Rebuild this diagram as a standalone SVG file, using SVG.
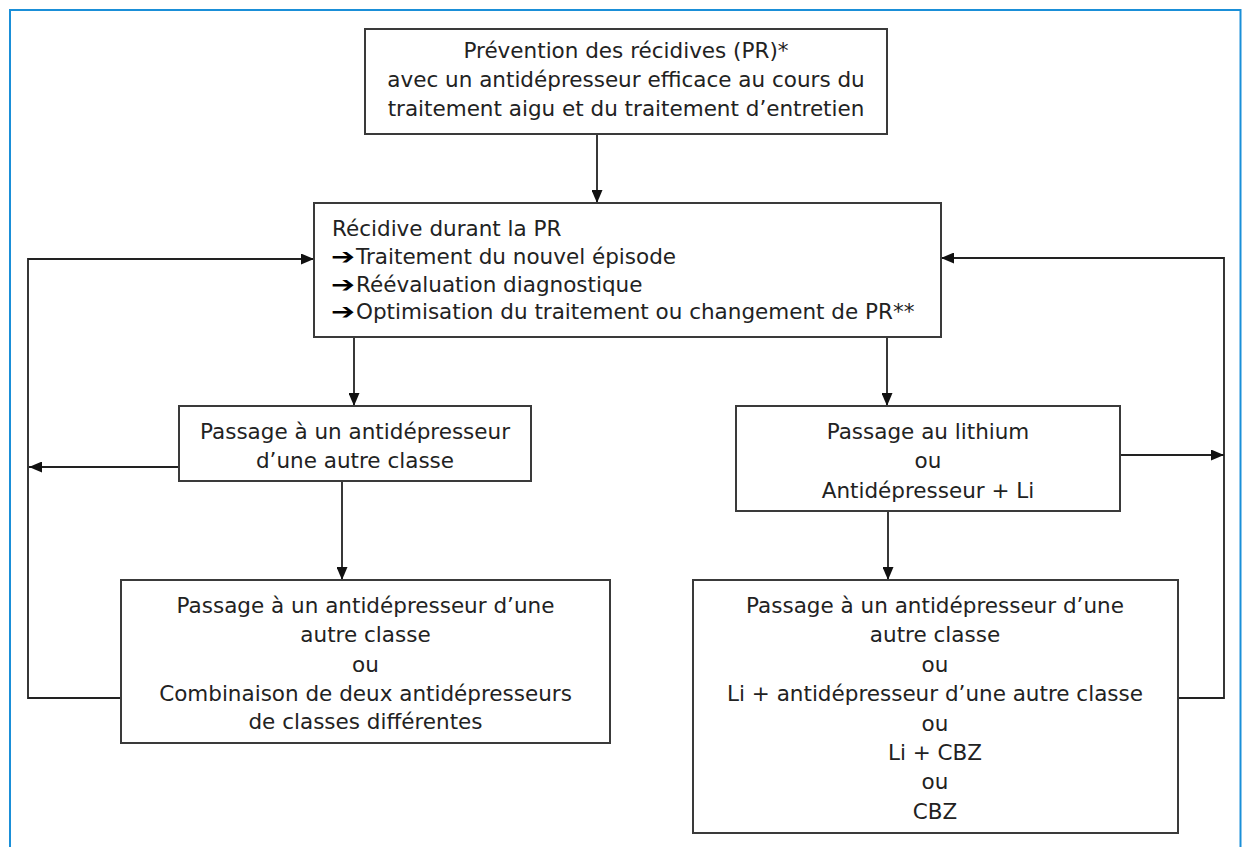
<svg xmlns="http://www.w3.org/2000/svg" width="1245" height="847" viewBox="0 0 1245 847">
<style>
.box{fill:#fff;stroke:#3a3a3a;stroke-width:2}
.t{font-family:"DejaVu Sans","Liberation Sans",sans-serif;font-size:21.5px;fill:#222}
.c{text-anchor:middle}
.ar{font-family:"DejaVu Sans",sans-serif;font-weight:bold;font-size:22px;fill:#000}
.ln{fill:none;stroke:#222;stroke-width:1.8}
</style>
<defs>
<marker id="ah" markerUnits="userSpaceOnUse" markerWidth="13" markerHeight="11" viewBox="0 0 13 11" refX="13" refY="5.5" orient="auto">
<path d="M0,0 L13,5.5 L0,11 Z" fill="#111"/>
</marker>
</defs>
<rect x="0" y="0" width="1245" height="847" fill="#fff"/>
<rect x="10" y="10" width="1230.5" height="860" fill="none" stroke="#1a8fd8" stroke-width="2"/>

<g id="connectors">
<line class="ln" x1="597" y1="134" x2="597" y2="203" marker-end="url(#ah)"/>
<line class="ln" x1="354" y1="337" x2="354" y2="406" marker-end="url(#ah)"/>
<line class="ln" x1="887" y1="337" x2="887" y2="406" marker-end="url(#ah)"/>
<line class="ln" x1="342" y1="481" x2="342" y2="580" marker-end="url(#ah)"/>
<line class="ln" x1="888" y1="511" x2="888" y2="580" marker-end="url(#ah)"/>
<path class="ln" d="M121,698 H28 V259 H314" marker-end="url(#ah)"/>
<path class="ln" d="M179,467 H29" marker-end="url(#ah)"/>
<path class="ln" d="M1178,698 H1224 V258 H941" marker-end="url(#ah)"/>
<path class="ln" d="M1120,455 H1224" marker-end="url(#ah)"/>
</g>

<g id="n-prevention">
<rect class="box" x="365" y="29" width="522" height="105"/>
<text class="t c" x="626" y="58">Prévention des récidives (PR)*</text>
<text class="t c" x="626" y="87">avec un antidépresseur efficace au cours du</text>
<text class="t c" x="626" y="116">traitement aigu et du traitement d’entretien</text>
</g>

<g id="n-recidive">
<rect class="box" x="314" y="203" width="627" height="134"/>
<text class="t" x="332" y="236">Récidive durant la PR</text>
<text class="ar" transform="translate(331,264) scale(1.3,1)" x="0" y="0">➔</text>
<text class="t" x="356" y="264">Traitement du nouvel épisode</text>
<text class="ar" transform="translate(331,292) scale(1.3,1)" x="0" y="0">➔</text>
<text class="t" x="356" y="292">Réévaluation diagnostique</text>
<text class="ar" transform="translate(331,319) scale(1.3,1)" x="0" y="0">➔</text>
<text class="t" x="356" y="319">Optimisation du traitement ou changement de PR**</text>
</g>

<g id="n-autre-classe">
<rect class="box" x="179" y="406" width="352" height="75"/>
<text class="t c" x="355" y="439">Passage à un antidépresseur</text>
<text class="t c" x="355" y="468">d’une autre classe</text>
</g>

<g id="n-lithium">
<rect class="box" x="736" y="406" width="384" height="105"/>
<text class="t c" x="928" y="439">Passage au lithium</text>
<text class="t c" x="928" y="468">ou</text>
<text class="t c" x="928" y="498">Antidépresseur + Li</text>
</g>

<g id="n-combinaison">
<rect class="box" x="121" y="580" width="489" height="163"/>
<text class="t c" x="365.5" y="613">Passage à un antidépresseur d’une</text>
<text class="t c" x="365.5" y="642">autre classe</text>
<text class="t c" x="365.5" y="672">ou</text>
<text class="t c" x="365.5" y="701">Combinaison de deux antidépresseurs</text>
<text class="t c" x="365.5" y="729">de classes différentes</text>
</g>

<g id="n-li-cbz">
<rect class="box" x="693" y="580" width="485" height="253"/>
<text class="t c" x="935" y="613">Passage à un antidépresseur d’une</text>
<text class="t c" x="935" y="642">autre classe</text>
<text class="t c" x="935" y="672">ou</text>
<text class="t c" x="935" y="701">Li + antidépresseur d’une autre classe</text>
<text class="t c" x="935" y="731">ou</text>
<text class="t c" x="935" y="760">Li + CBZ</text>
<text class="t c" x="935" y="789">ou</text>
<text class="t c" x="935" y="819">CBZ</text>
</g>
</svg>
